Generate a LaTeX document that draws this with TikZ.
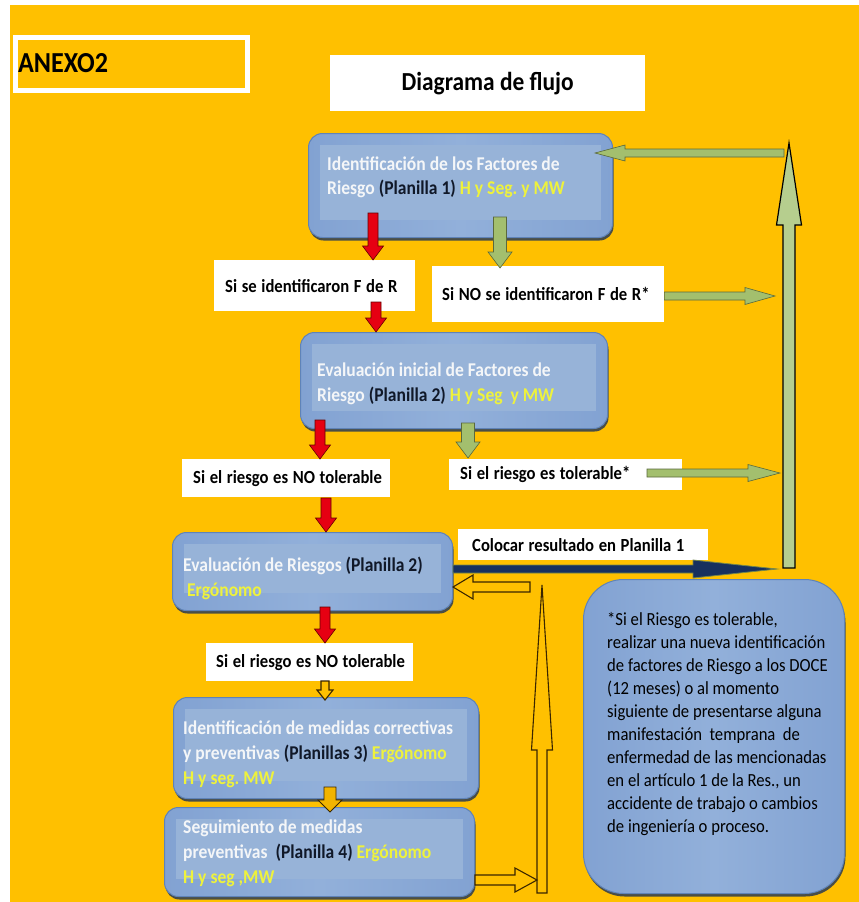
\documentclass[tikz,border=0pt]{standalone}
\usepackage{fontspec}
\setmainfont{Carlito}[FakeStretch=0.9]
\usetikzlibrary{calc,shadows}
\definecolor{bgy}{HTML}{FFC000}
\definecolor{boxb}{HTML}{92B0DA}
\definecolor{boxs}{HTML}{82A2D2}
\definecolor{boxi}{HTML}{97B3D8}
\definecolor{boxe}{HTML}{5F83B8}
\definecolor{txtw}{HTML}{F4F6F8}
\definecolor{txty}{HTML}{EEF23C}
\definecolor{txtk}{HTML}{101828}
\definecolor{redA}{HTML}{E60012}
\definecolor{grnA}{HTML}{A3BF6E}
\definecolor{grnV}{HTML}{B6CE8E}
\definecolor{navy}{HTML}{17305E}
\definecolor{yelD}{HTML}{F2B400}
\definecolor{brownk}{HTML}{3A2600}

\newcommand\fatarrow[6][]{%
  \coordinate (faC) at ($(#3)!#6!(#2)$);
  \path[#1] ($(#2)!#4!90:(#3)$) -- ($(faC)!#4!90:(#3)$) -- ($(faC)!#5!90:(#3)$)
    -- (#3) -- ($(faC)!#5!-90:(#3)$) -- ($(faC)!#4!-90:(#3)$) -- ($(#2)!#4!-90:(#3)$) -- cycle;}
\newcommand\innerpanel[1]{%
  \fill[boxi] ($(#1.north west)+(12,12)$) rectangle ($(#1.south east)+(-12,-18)$);}
\newcommand\lbltext[1]{\mbox{\spaceskip=.25em\relax #1}}

\tikzset{
  bbox/.style={rounded corners=14pt, left color=boxs, right color=boxs, middle color=boxb, draw=boxe,
    line width=1pt, anchor=north west, inner sep=0pt,
    drop shadow={shadow xshift=1pt, shadow yshift=-3pt, fill=boxe!45!black, opacity=0.85}},
  btext/.style={anchor=west, align=left, inner sep=0pt, text=txtw, font=\bfseries\fontsize{19.5}{25}\selectfont},
  lbl/.style={fill=white, anchor=north west, align=left, inner ysep=0pt, font=\bfseries\fontsize{18.5}{22}\selectfont},
  redarr/.style={fill=redA, draw=red!40!black, line width=0.6pt},
  grnarr/.style={fill=grnA, draw=grnA!55!black, line width=0.6pt},
  hollow/.style={fill=bgy, draw=brownk, line width=1.1pt},
}

\begin{document}
\frenchspacing
\begin{tikzpicture}[x=1pt,y=-1pt]
\useasboundingbox (0,0) rectangle (859,902);
\fill[white] (0,0) rectangle (859,902);
\fill[bgy] (10,5) rectangle (859,902);

% header
\node[draw=white, fill=bgy, line width=5pt, anchor=north west, minimum height=53pt, text width=226pt, inner xsep=3pt,
  align=left, font=\bfseries\fontsize{29}{32}\selectfont,
  drop shadow={shadow xshift=1pt, shadow yshift=-2pt, fill=black, opacity=0.15}] (anexo) at (12.5,34.5) {ANEXO2};
\node[fill=white, anchor=north west, minimum width=315pt, minimum height=56pt, inner sep=0pt,
  font=\bfseries\fontsize{26}{30}\selectfont] (title) at (330,55) {Diagrama de flujo};

% blue boxes
\node[bbox, minimum width=304pt, minimum height=104pt] (b1) at (308,133) {};
\node[bbox, minimum width=307pt, minimum height=96pt] (b2) at (300,332) {};
\node[bbox, minimum width=280pt, minimum height=78pt] (b3) at (172,532) {};
\node[bbox, minimum width=305pt, minimum height=101pt] (b4) at (173,697) {};
\node[bbox, minimum width=310pt, minimum height=89pt] (b5) at (164,807) {};
\node[bbox, rounded corners=40pt, minimum width=261pt, minimum height=314pt] (nb) at (583,579) {};
\innerpanel{b1}\innerpanel{b2}\innerpanel{b3}\innerpanel{b4}\innerpanel{b5}

\node[btext, font=\bfseries\fontsize{19.5}{24}\selectfont] (b1t) at (327,177)
  {Identificación de los Factores de\\Riesgo \textcolor{txtk}{(Planilla 1)} \textcolor{txty}{H y Seg. y MW}};
\node[btext] (b2t) at (317,384)
  {Evaluación inicial de Factores de\\Riesgo \textcolor{txtk}{(Planilla 2)} \textcolor{txty}{H y Seg\ \ y MW}};
\node[btext] (b3t) at (183,578)
  {Evaluación de Riesgos \textcolor{txtk}{(Planilla 2)}\\\ \textcolor{txty}{Ergónomo}};
\node[btext] (b4t) at (183,754)
  {Identificación de medidas correctivas\\y preventivas \textcolor{txtk}{(Planillas 3)} \textcolor{txty}{Ergónomo}\\\textcolor{txty}{H y seg. MW}};
\node[btext] (b5t) at (183,853)
  {Seguimiento de medidas\\preventivas\ \ \textcolor{txtk}{(Planilla 4)} \textcolor{txty}{Ergónomo}\\\textcolor{txty}{H y seg ,MW}};
\node[anchor=north west, align=left, inner sep=0pt, font=\fontsize{18.5}{23}\selectfont] (nbt) at (607,612)
  {*Si el Riesgo es tolerable,\\realizar una nueva identificación\\de factores de Riesgo a los DOCE\\(12 meses) o al momento\\siguiente de presentarse alguna\\manifestación\ \ temprana\ \ de\\enfermedad de las mencionadas\\en el artículo 1 de la Res., un\\accidente de trabajo o cambios\\de ingeniería o proceso.};

% white labels
\node[lbl, minimum height=51pt, text width=179pt, inner xsep=11pt] (l1) at (214,260) {\lbltext{Si se identificaron F de R}};
\node[lbl, minimum height=56pt, text width=212pt, inner xsep=10pt] (l2) at (432,266) {\lbltext{Si NO se identificaron F de R*}};
\node[lbl, minimum height=38pt, text width=186pt, inner xsep=11pt] (l3) at (182,459) {\lbltext{Si el riesgo es NO tolerable}};
\node[lbl, minimum height=31pt, text width=211pt, inner xsep=11pt] (l4) at (449,459) {\lbltext{Si el riesgo es tolerable*}};
\node[lbl, minimum height=31pt, text width=222pt, inner xsep=14pt] (l5) at (458,529) {\lbltext{Colocar resultado en Planilla 1}};
\node[lbl, minimum height=38pt, text width=187pt, inner xsep=10pt] (l6) at (206,643) {\lbltext{Si el riesgo es NO tolerable}};

% connector end points
\coordinate (r1a) at (373,213);  \coordinate (r1b) at (r1a |- l1.north);
\coordinate (g1a) at (500,217);  \coordinate (g1b) at (500,268);
\coordinate (r2a) at (376,302);  \coordinate (r2b) at (r2a |- b2.north);
\coordinate (g2a) at (l2.east |- 0,296); \coordinate (g2b) at (775,296);
\coordinate (r3a) at (320,420);  \coordinate (r3b) at (r3a |- l3.north);
\coordinate (g3a) at (468,423);  \coordinate (g3b) at (468,458);
\coordinate (g4a) at (647,473);  \coordinate (g4b) at (780,473);
\coordinate (r4a) at (326,498);  \coordinate (r4b) at (r4a |- b3.north);
\coordinate (n1a) at (b3.east |- 0,569); \coordinate (n1b) at (777,569);
\coordinate (y1a) at (530,587);  \coordinate (y1b) at (b3.east |- y1a);
\coordinate (yva) at (542,893);  \coordinate (yvb) at (542,585);
\coordinate (y2a) at (b5.east |- 0,880); \coordinate (y2b) at (537,880);
\coordinate (gva) at (789,568);  \coordinate (gvb) at (789,143);
\coordinate (g5a) at (784,153);  \coordinate (g5b) at (595,153);
\coordinate (r5a) at (325,607);  \coordinate (r5b) at (r5a |- l6.north);
\coordinate (y3a) at (325,681);  \coordinate (y3b) at (325,700);
\coordinate (y4a) at (330,787);  \coordinate (y4b) at (330,812);

% arrows
\fatarrow[redarr]{r1a}{r1b}{5pt}{10.5pt}{14pt}
\fatarrow[grnarr]{g1a}{g1b}{6.5pt}{12pt}{16pt}
\fatarrow[redarr]{r2a}{r2b}{5pt}{10.5pt}{14pt}
\fatarrow[redarr]{r3a}{r3b}{5pt}{10.5pt}{14pt}
\fatarrow[grnarr]{g3a}{g3b}{6.5pt}{12pt}{16pt}
\fatarrow[redarr]{r4a}{r4b}{5pt}{10.5pt}{14pt}
\fatarrow[redarr]{r5a}{r5b}{5pt}{10.5pt}{14pt}
\fatarrow[fill=grnV, draw=black, line width=1.2pt]{gva}{gvb}{6pt}{12.5pt}{82pt}
\fatarrow[grnarr]{g2a}{g2b}{4pt}{8.5pt}{30pt}
\fatarrow[grnarr]{g4a}{g4b}{4pt}{8.5pt}{32pt}
\fatarrow[grnarr]{g5a}{g5b}{4pt}{8pt}{30pt}
\fatarrow[fill=navy, draw=grnA!70!black, line width=0.8pt]{n1a}{n1b}{4pt}{9pt}{84pt}
\fatarrow[hollow]{y1a}{y1b}{5pt}{12pt}{20pt}
\fatarrow[hollow]{yva}{yvb}{5pt}{10.5pt}{165pt}
\fatarrow[hollow]{y2a}{y2b}{5pt}{12pt}{22pt}
\fatarrow[hollow]{y3a}{y3b}{4pt}{8pt}{10pt}
\fatarrow[fill=yelD, draw=brownk, line width=0.8pt]{y4a}{y4b}{6pt}{12pt}{12pt}
\end{tikzpicture}
\end{document}
